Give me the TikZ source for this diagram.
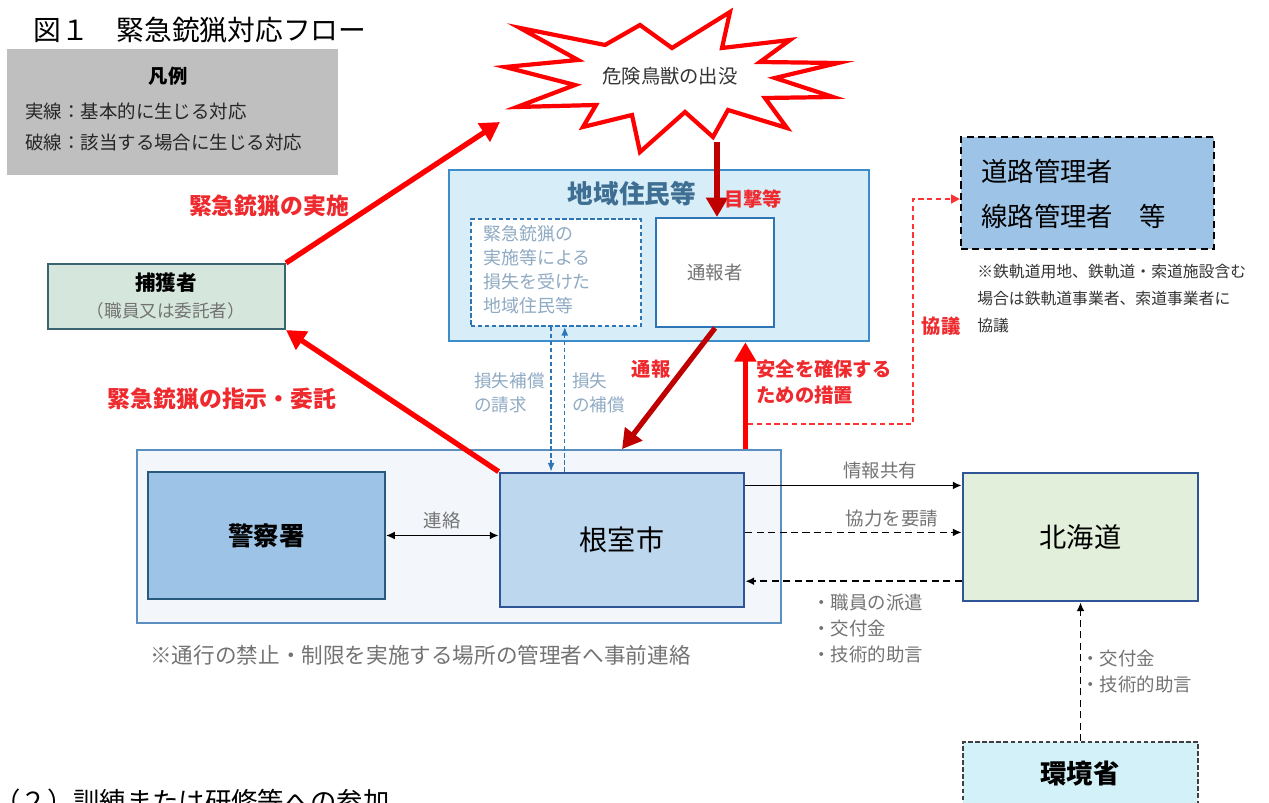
\documentclass[tikz,border=0pt]{standalone}
\usepackage{fontspec}
\setmainfont{Noto Sans CJK JP}
\usetikzlibrary{arrows.meta,positioning,calc}

\definecolor{legendgray}{HTML}{BFBFBF}
\definecolor{alarmred}{HTML}{FF0000}
\definecolor{labelred}{HTML}{EE2A2E}
\definecolor{darkred}{HTML}{C00000}
\definecolor{areafill}{HTML}{D7EEF9}
\definecolor{arealine}{HTML}{3C8DC9}
\definecolor{areatext}{HTML}{3E6F93}
\definecolor{cityfill}{HTML}{BDD7EE}
\definecolor{cityline}{HTML}{2F5597}
\definecolor{policefill}{HTML}{9DC3E6}
\definecolor{policeline}{HTML}{29597D}
\definecolor{hokkaidofill}{HTML}{E2EFDA}
\definecolor{hunterfill}{HTML}{D5E6DD}
\definecolor{hunterline}{HTML}{3A6470}
\definecolor{ministryfill}{HTML}{D3F1F8}
\definecolor{groupfill}{HTML}{F3F7FB}
\definecolor{groupline}{HTML}{5B8FBF}
\definecolor{softgray}{HTML}{737373}
\definecolor{bluegray}{HTML}{8FAAC3}
\definecolor{lossblue}{HTML}{2E75B6}

\begin{document}
\begin{tikzpicture}[x=0.02cm, y=-0.02cm, inner sep=0pt,
		font=\fontsize{10.5pt}{13pt}\selectfont,
		box/.style={draw, line width=1.2pt},
		dashline/.style={dash pattern=on 4pt off 2.5pt},
		redlbl/.style={text=labelred, font=\fontsize{13pt}{15pt}\selectfont\bfseries},
		smallred/.style={text=labelred, font=\fontsize{11pt}{14.7pt}\selectfont\bfseries},
		graylbl/.style={text=softgray, font=\fontsize{10.5pt}{14.7pt}\selectfont},
		losslbl/.style={text=bluegray, font=\fontsize{10pt}{14pt}\selectfont},
		redarrow/.style={draw=alarmred, line width=3pt, -{Triangle[length=11pt, width=12pt]}},
		darkarrow/.style={draw=darkred, line width=3pt, -{Triangle[length=11pt, width=12pt]}},
		flow/.style={draw=black, line width=0.9pt, -{Latex[length=5pt, width=4.5pt]}},
		lossflow/.style={draw=lossblue, line width=0.8pt, dash pattern=on 2.5pt off 1.5pt, -{Latex[length=5pt, width=4pt]}},
		consult/.style={draw=alarmred!80, line width=1pt, dash pattern=on 3pt off 2pt, -{Triangle[length=5pt, width=5pt]}},
	]
	\clip (0,0) rectangle (1269,803);

	% title and legend
	\node (title) [anchor=west, font=\fontsize{15.8pt}{18pt}\selectfont] at (33,30) {図１　緊急銃猟対応フロー};
	\node (legend) [fill=legendgray, minimum width=6.62cm, minimum height=2.52cm] at (172.5,112) {};
	\node (legendhead) [font=\fontsize{11pt}{13pt}\selectfont\bfseries] at (168,76) {凡例};
	\node (solidnote) [anchor=west, text=black!85] at (25,111) {実線：基本的に生じる対応};
	\node (dashnote) [anchor=west, text=black!85] at (25,143) {破線：該当する場合に生じる対応};

	% the burst
	\draw[draw=alarmred, line width=2.4pt, fill=white, line join=miter]
		(640,25) -- (672,48) -- (730,12) -- (722,48) -- (790,40) -- (760,62)
		-- (838,63) -- (775,78) -- (833,97) -- (765,98) -- (787,128) -- (728,110)
		-- (713,137) -- (685,112) -- (640,152) -- (632,115) -- (583,127) -- (596,105)
		-- (517,107) -- (575,85) -- (505,67) -- (578,60) -- (520,28) -- (605,45) -- cycle;
	\node (sighting) [font=\fontsize{11pt}{13pt}\selectfont, text=black!80] at (670,76) {危険鳥獣の出没};
	\coordinate (burstfoot) at (717,142);
	\coordinate (bursttip) at (500,122);

	% residents
	\node (residents) [box, draw=arealine, line width=1.5pt, fill=areafill, minimum width=8.4cm, minimum height=3.42cm] at (659,255.5) {};
	\node (residentshead) [text=areatext, font=\fontsize{14.6pt}{17pt}\selectfont\bfseries] at (632,194) {地域住民等};
	\node (losses) [box, draw=lossblue, line width=1pt, dash pattern=on 2.5pt off 1.5pt, fill=white, minimum width=3.4cm, minimum height=2.14cm] at (556,272.5) {};
	\node (lossestext) [anchor=north west, align=left, text=bluegray, font=\fontsize{10.2pt}{13.6pt}\selectfont] at (483,225) {緊急銃猟の\\実施等による\\損失を受けた\\地域住民等};
	\node (reporter) [box, draw=lossblue, fill=white, minimum width=2.36cm, minimum height=2.18cm, text=softgray] at (715,272.5) {通報者};

	% hunter
	\node (hunter) [box, draw=hunterline, fill=hunterfill, minimum width=4.74cm, minimum height=1.3cm] at (166.5,296.5) {};
	\node (huntername) [font=\fontsize{11.7pt}{14pt}\selectfont\bfseries] at (166,283) {捕獲者};
	\node (hunterrole) [text=softgray, font=\fontsize{10pt}{12pt}\selectfont] at (166,311) {（職員又は委託者）};

	% city office and partners
	\node (office) [box, draw=groupline, line width=1pt, fill=groupfill, minimum width=12.88cm, minimum height=3.46cm] at (459,536.5) {};
	\node (police) [box, draw=policeline, fill=policefill, minimum width=4.74cm, minimum height=2.54cm, font=\fontsize{14.5pt}{17pt}\selectfont\bfseries] at (266.5,535.5) {警察署};
	\node (city) [box, draw=cityline, line width=1.6pt, fill=cityfill, minimum width=4.88cm, minimum height=2.68cm, font=\fontsize{16pt}{19pt}\selectfont] at (622,540) {根室市};
	\node (hokkaido) [box, draw=cityline, line width=1.6pt, fill=hokkaidofill, minimum width=4.7cm, minimum height=2.56cm, font=\fontsize{15.5pt}{18pt}\selectfont] at (1080.5,537) {北海道};
	\node (ministry) [box, draw=black!75, line width=1pt, dash pattern=on 2.5pt off 1.5pt, fill=ministryfill, minimum width=4.7cm, minimum height=1.76cm] at (1080.5,786) {};
	\node (ministryname) [font=\fontsize{15pt}{18pt}\selectfont\bfseries] at (1080,774) {環境省};
	\node (road) [box, draw=black, dashline, fill=policefill, minimum width=5.06cm, minimum height=2.24cm] at (1087.5,193) {};
	\node (roadtext) [anchor=west, align=left, font=\fontsize{15pt}{25.5pt}\selectfont] at (981,194) {道路管理者\\線路管理者　等};
	\node (railnote) [anchor=north west, align=left, text=black!80, font=\fontsize{9pt}{15.3pt}\selectfont] at (977,264) {※鉄軌道用地、鉄軌道・索道施設含む\\場合は鉄軌道事業者、索道事業者に\\協議};
	\node (footnote) [anchor=west, text=softgray, font=\fontsize{12.3pt}{14pt}\selectfont] at (150,655) {※通行の禁止・制限を実施する場所の管理者へ事前連絡};
	\node (nextsection) [anchor=north west, font=\fontsize{15pt}{18pt}\selectfont] at (-6,789) {（２）訓練または研修等への参加};

	% red flows
	\draw[darkarrow] (burstfoot) -- (burstfoot |- reporter.north);
	\node (sightlbl) [smallred] at (753,199) {目撃等};
	\draw[darkarrow] (reporter.south) -- (city.north |- office.north);
	\node (reportlbl) [smallred] at (651,369) {通報};
	\draw[redarrow] (city.north east |- office.north) -- (city.north east |- residents.south);
	\node (safetylbl) [smallred, anchor=west, align=left] at (756,382) {安全を確保する\\ための措置};
	\coordinate (consultfrom) at (748,424);
	\draw[consult] (consultfrom) -- ++(165,0) |- ($(road.west)+(0,6)$);
	\node (consultlbl) [smallred] at (941,326) {協議};
	\draw[redarrow] (hunter.north east) -- (bursttip);
	\node (shootlbl) [redlbl] at (269,206) {緊急銃猟の実施};
	\draw[redarrow] (city.north west) -- (hunter.south east);
	\node (orderlbl) [redlbl] at (222,399) {緊急銃猟の指示・委託};

	% losses
	\coordinate (claimtop) at ([xshift=-2.8pt]losses.south);
	\coordinate (paytop) at ([xshift=5pt]losses.south);
	\draw[lossflow] (claimtop) -- (claimtop |- city.north);
	\draw[lossflow] (paytop |- city.north) -- (paytop);
	\node (claimlbl) [losslbl, anchor=west, align=left] at (474,393) {損失補償\\の請求};
	\node (paylbl) [losslbl, anchor=west, align=left] at (572,393) {損失\\の補償};

	% black flows
	\draw[flow, {Latex[length=5pt, width=4.5pt]}-{Latex[length=5pt, width=4.5pt]}] (police.east) -- (police.east -| city.west);
	\node (contactlbl) [graylbl] at (442,521) {連絡};
	\coordinate (shareout) at ([yshift=-7.9pt]city.north east);
	\coordinate (askout) at ([yshift=-34.6pt]city.north east);
	\coordinate (supportin) at ([yshift=-62.4pt]city.north east);
	\draw[flow] (shareout) -- (shareout -| hokkaido.west);
	\node (sharelbl) [graylbl] at (880,471) {情報共有};
	\draw[flow, dashline] (askout) -- (askout -| hokkaido.west);
	\node (asklbl) [graylbl] at (892,519) {協力を要請};
	\draw[flow, dashline] (supportin -| hokkaido.west) -- (supportin);
	\node (supportlbl) [graylbl, anchor=north west, align=left] at (812,594) {・職員の派遣\\・交付金\\・技術的助言};
	\draw[flow, dashline] (ministry.north) -- (hokkaido.south);
	\node (grantlbl) [graylbl, anchor=north west, align=left] at (1081,650) {・交付金\\・技術的助言};
\end{tikzpicture}
\end{document}
